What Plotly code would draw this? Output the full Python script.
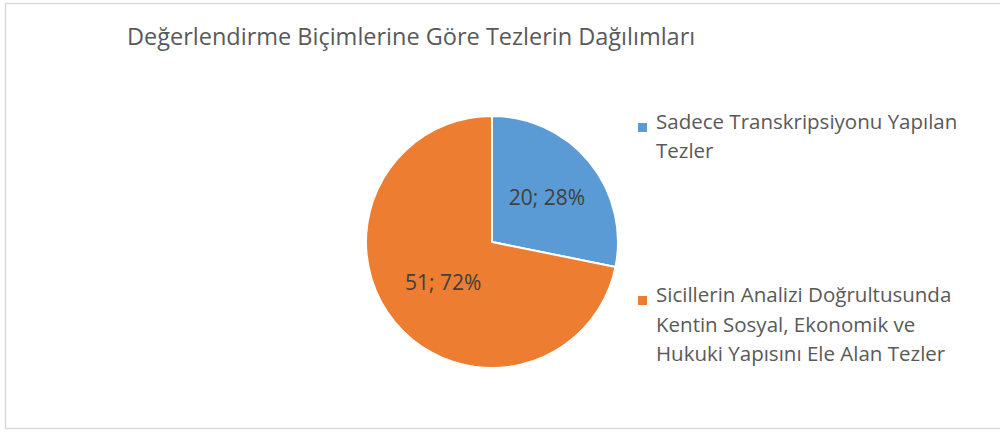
import plotly.graph_objects as go

title_text = "Değerlendirme Biçimlerine Göre Tezlerin Dağılımları"
categories = [
    "Sadece Transkripsiyonu Yapılan Tezler",
    "Sicillerin Analizi Doğrultusunda Kentin Sosyal, Ekonomik ve Hukuki Yapısını Ele Alan Tezler",
]
legend_lines = [
    ["Sadece Transkripsiyonu Yapılan", "Tezler"],
    ["Sicillerin Analizi Doğrultusunda", "Kentin Sosyal, Ekonomik ve", "Hukuki Yapısını Ele Alan Tezler"],
]
values = [20, 51]
colors = ["#5B9BD5", "#ED7D31"]

W, H = 1000, 433
FONT = "Open Sans"
TXT = "#595959"

fig = go.Figure()
fig.add_trace(go.Pie(
    labels=categories,
    values=values,
    sort=False,
    direction="clockwise",
    rotation=0,
    marker=dict(colors=colors, line=dict(color="white", width=2)),
    texttemplate="%{value}; %{percent:.0%}",
    textposition="inside",
    insidetextorientation="horizontal",
    textfont=dict(family=FONT, size=21, color="#404040"),
    domain=dict(x=[(492 - 126) / W, (492 + 126) / W],
                y=[(H - 242 - 126) / H, (H - 242 + 126) / H]),
    showlegend=False,
    hoverinfo="label+value+percent",
))

annotations = [dict(
    text=title_text, x=125 / W, y=1 - 36 / H, xref="paper", yref="paper",
    xanchor="left", yanchor="middle", showarrow=False,
    font=dict(family=FONT, size=23.5, color=TXT),
)]
shapes = [dict(type="rect", xref="paper", yref="paper",
               x0=5.5 / W, x1=1.2, y0=1 - 428.5 / H, y1=1 - 3.5 / H,
               line=dict(color="#D9D9D9", width=1.5), fillcolor="rgba(0,0,0,0)")]

# legend rows: first-line centre y (px from top) for each item
item_tops = [121, 294]
line_gap = 29.5
for i, lines in enumerate(legend_lines):
    y0 = item_tops[i]
    shapes.append(dict(type="rect", xref="paper", yref="paper",
                       x0=638 / W, x1=647 / W,
                       y0=1 - (y0 + 11) / H, y1=1 - (y0 + 2) / H,
                       fillcolor=colors[i], line=dict(width=0)))
    for j, ln in enumerate(lines):
        annotations.append(dict(
            text=ln, x=654 / W, y=1 - (y0 + j * line_gap) / H,
            xref="paper", yref="paper", xanchor="left", yanchor="middle",
            showarrow=False, font=dict(family=FONT, size=20.5, color=TXT),
        ))

fig.update_layout(
    width=W, height=H,
    margin=dict(l=0, r=0, t=0, b=0),
    paper_bgcolor="white", plot_bgcolor="white",
    annotations=annotations, shapes=shapes,
    showlegend=False,
)
fig.write_html(
    "out.html",
    config={"displayModeBar": False},
    post_script="document.body.style.margin='0';document.body.style.overflow='hidden';",
)
